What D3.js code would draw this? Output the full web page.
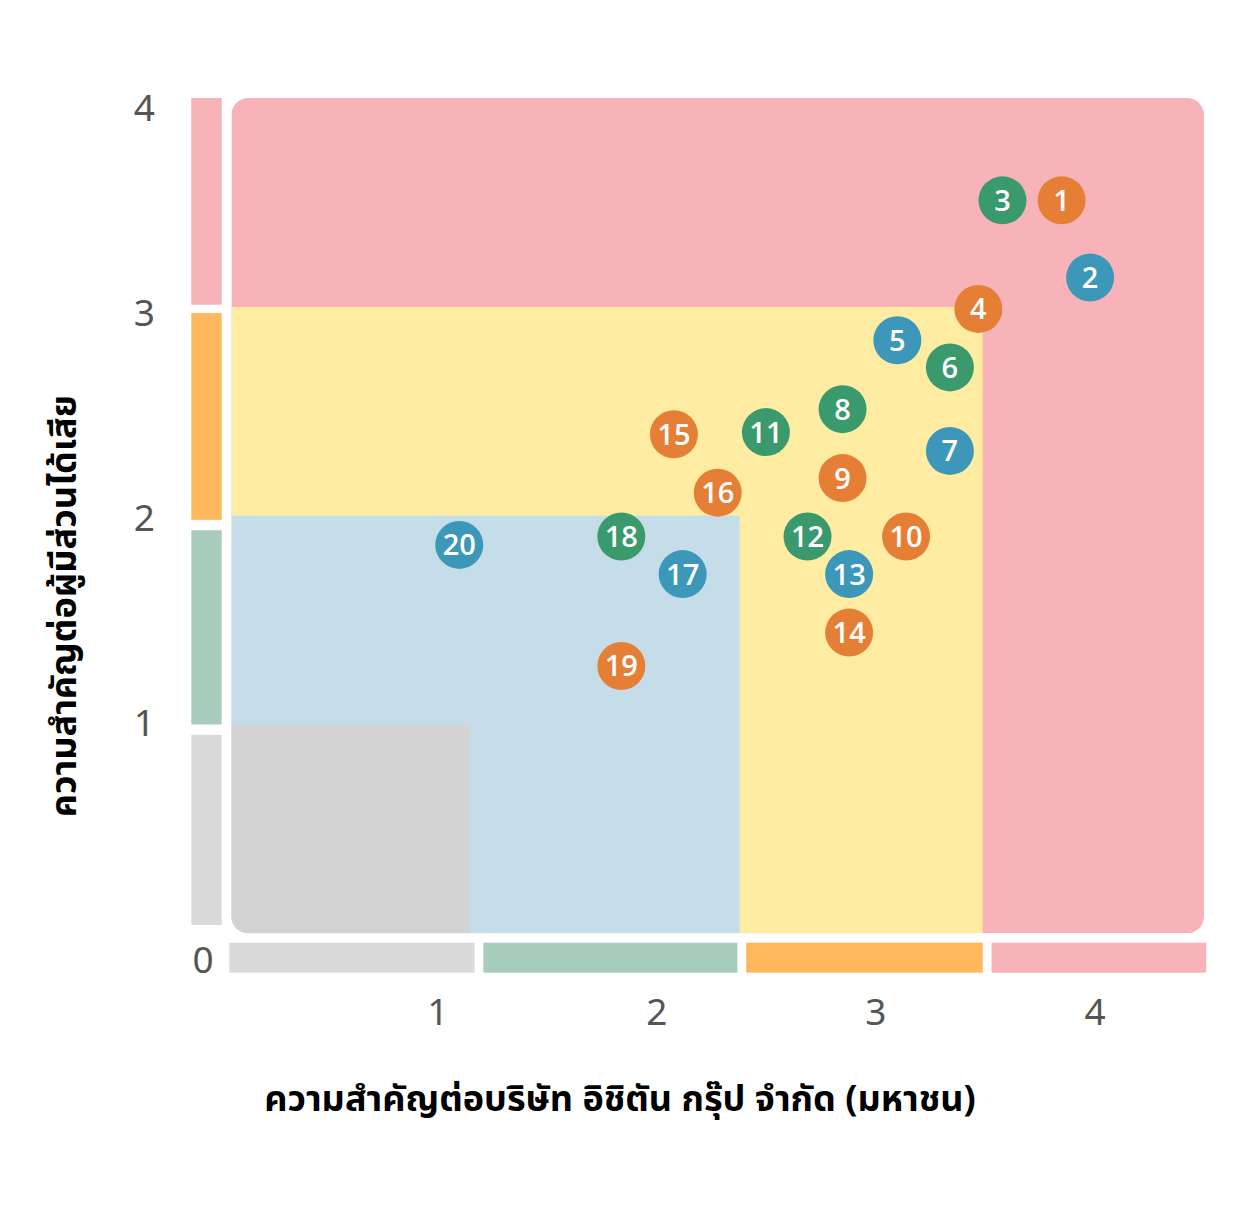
<!DOCTYPE html>
<html>
<head>
<meta charset="utf-8">
<script src="https://cdn.jsdelivr.net/npm/d3@7"></script>
<style>
    body { margin: 0; background: #fff; }
    svg { display: block; }
</style>
</head>
<body>
<div id="chart"></div>
<script>
// ข้อมูลประเด็นสาระสำคัญ (materiality)
const issueIds = [1, 2, 3, 4, 5, 6, 7, 8, 9, 10, 11, 12, 13, 14, 15, 16, 17, 18, 19, 20];
const companyScore = [3.85, 3.98, 3.58, 3.47, 3.10, 3.34, 3.34, 2.85, 2.85, 3.14,
                      2.50, 2.69, 2.88, 2.88, 2.08, 2.28, 2.12, 1.84, 1.84, 1.10];
const stakeholderScore = [3.51, 3.14, 3.51, 2.99, 2.84, 2.71, 2.31, 2.51, 2.18, 1.90,
                          2.40, 1.90, 1.72, 1.44, 2.39, 2.11, 1.72, 1.90, 1.28, 1.86];
const issueGroup = ["A", "C", "B", "A", "C", "B", "C", "B", "A", "A",
                    "B", "B", "C", "A", "A", "A", "C", "B", "A", "C"];

// ระดับความสำคัญ (พื้นหลัง) และแถบระดับบนแกน
const levels = ["low", "medium", "high", "very high"];
const levelXEnd = [1.15, 2.38, 3.49, 4.5];
const levelYEnd = [1, 2, 3, 4];
const plotXStart = 0.06;
const xBandFrom = [0.05, 1.21, 2.41, 3.53];
const xBandTo = [1.17, 2.37, 3.49, 4.51];
const yBandFrom = [0.04, 1.0, 1.98, 3.01];
const yBandTo = [0.95, 1.93, 2.97, 4.0];

const xTickValues = [1, 2, 3, 4];
const yTickValues = [1, 2, 3, 4];
const originLabel = "0";
const xTitle = "ความสำคัญต่อบริษัท อิชิตัน กรุ๊ป จำกัด (มหาชน)";
const yTitle = "ความสำคัญต่อผู้มีส่วนได้เสีย";

const width = 1260, height = 1208;
const thaiFont = "'Noto Sans Thai', 'Noto Sans Thai UI', 'Noto Sans', sans-serif";

const svg = d3.select("#chart").append("svg")
    .attr("width", width)
    .attr("height", height);

const x = d3.scaleLinear().domain([0, 4.5]).range([218.3, 1204]);
const y = d3.scaleLinear().domain([0, 4]).range([933.3, 98]);
// ตำแหน่งป้ายตัวเลขแกน Y (ขยับจากเส้นแบ่งเล็กน้อย)
const yLabel = d3.scaleLinear().domain([1, 4]).range([722, 107]);

const regionColor = d3.scaleOrdinal().domain(levels)
    .range(["#d3d3d3", "#c4dde9", "#feeca2", "#f7b3b8"]);
const bandColor = d3.scaleOrdinal().domain(levels)
    .range(["#dadada", "#a8cdbd", "#ffb85d", "#f7b3b8"]);
const dotColor = d3.scaleOrdinal().domain(["A", "B", "C"])
    .range(["#e67f36", "#3b9a6d", "#3d97b8"]);

// พื้นที่กราฟมุมมน
const defs = svg.append("defs");
defs.append("clipPath")
    .attr("id", "plot-clip")
    .append("rect")
    .attr("x", x(plotXStart))
    .attr("y", y(4))
    .attr("width", x(4.5) - x(plotXStart))
    .attr("height", y(0) - y(4))
    .attr("rx", 17)
    .attr("ry", 17);

const regions = levels.map((lv, i) => ({ level: lv, xEnd: levelXEnd[i], yEnd: levelYEnd[i] })).reverse();

svg.append("g")
    .attr("clip-path", "url(#plot-clip)")
    .selectAll("rect")
    .data(regions)
    .join("rect")
    .attr("x", x(plotXStart))
    .attr("y", d => y(d.yEnd))
    .attr("width", d => x(d.xEnd) - x(plotXStart))
    .attr("height", d => y(0) - y(d.yEnd))
    .attr("fill", d => regionColor(d.level));

// แถบระดับแกน Y
svg.append("g")
    .selectAll("rect")
    .data(levels.map((lv, i) => ({ level: lv, from: yBandFrom[i], to: yBandTo[i] })))
    .join("rect")
    .attr("x", 191.3)
    .attr("width", 30.4)
    .attr("y", d => y(d.to))
    .attr("height", d => y(d.from) - y(d.to))
    .attr("fill", d => bandColor(d.level));

// แถบระดับแกน X
svg.append("g")
    .selectAll("rect")
    .data(levels.map((lv, i) => ({ level: lv, from: xBandFrom[i], to: xBandTo[i] })))
    .join("rect")
    .attr("x", d => x(d.from))
    .attr("width", d => x(d.to) - x(d.from))
    .attr("y", 942.7)
    .attr("height", 30)
    .attr("fill", d => bandColor(d.level));

// แกน
const xAxis = svg.append("g")
    .attr("transform", "translate(0, 972.7)")
    .call(d3.axisBottom(x).tickValues(xTickValues).tickSize(0).tickPadding(26).tickFormat(d3.format("d")));
const yAxis = svg.append("g")
    .attr("transform", "translate(165, 0)")
    .call(d3.axisLeft(yLabel).tickValues(yTickValues).tickSize(0).tickPadding(10).tickFormat(d3.format("d")));

[xAxis, yAxis].forEach(ax => {
    ax.select(".domain").remove();
    ax.selectAll("text")
        .attr("fill", "#555")
        .style("font-family", "'Noto Sans', sans-serif")
        .style("font-size", "37px");
});
yAxis.selectAll("text").attr("dy", "0.36em");

svg.append("text")
    .attr("x", 203)
    .attr("y", 960)
    .attr("dy", "0.36em")
    .attr("text-anchor", "middle")
    .attr("fill", "#555")
    .style("font-family", "'Noto Sans', sans-serif")
    .style("font-size", "37px")
    .text(originLabel);

// จุดประเด็น
const issues = issueIds.map((id, i) => ({
    id, cx: companyScore[i], cy: stakeholderScore[i], group: issueGroup[i]
}));

const dots = svg.append("g")
    .selectAll("g")
    .data(issues)
    .join("g")
    .attr("transform", d => `translate(${x(d.cx)},${y(d.cy)})`);

dots.append("circle")
    .attr("r", 24)
    .attr("fill", d => dotColor(d.group));

dots.append("text")
    .attr("text-anchor", "middle")
    .attr("dy", "0.36em")
    .attr("fill", "#fff")
    .style("font-family", "'Open Sans', 'Noto Sans', sans-serif")
    .style("font-weight", 600)
    .style("font-size", "29px")
    .text(d => d.id);

// ชื่อแกน
svg.append("text")
    .attr("x", 620)
    .attr("y", 1098)
    .attr("dy", "0.35em")
    .attr("text-anchor", "middle")
    .attr("fill", "#000")
    .style("font-family", thaiFont)
    .style("font-weight", 700)
    .style("font-size", "36px")
    .text(xTitle);

svg.append("text")
    .attr("transform", "translate(63, 606) rotate(-90)")
    .attr("dy", "0.35em")
    .attr("text-anchor", "middle")
    .attr("fill", "#000")
    .style("font-family", thaiFont)
    .style("font-weight", 700)
    .style("font-size", "36px")
    .text(yTitle);
</script>
</body>
</html>
